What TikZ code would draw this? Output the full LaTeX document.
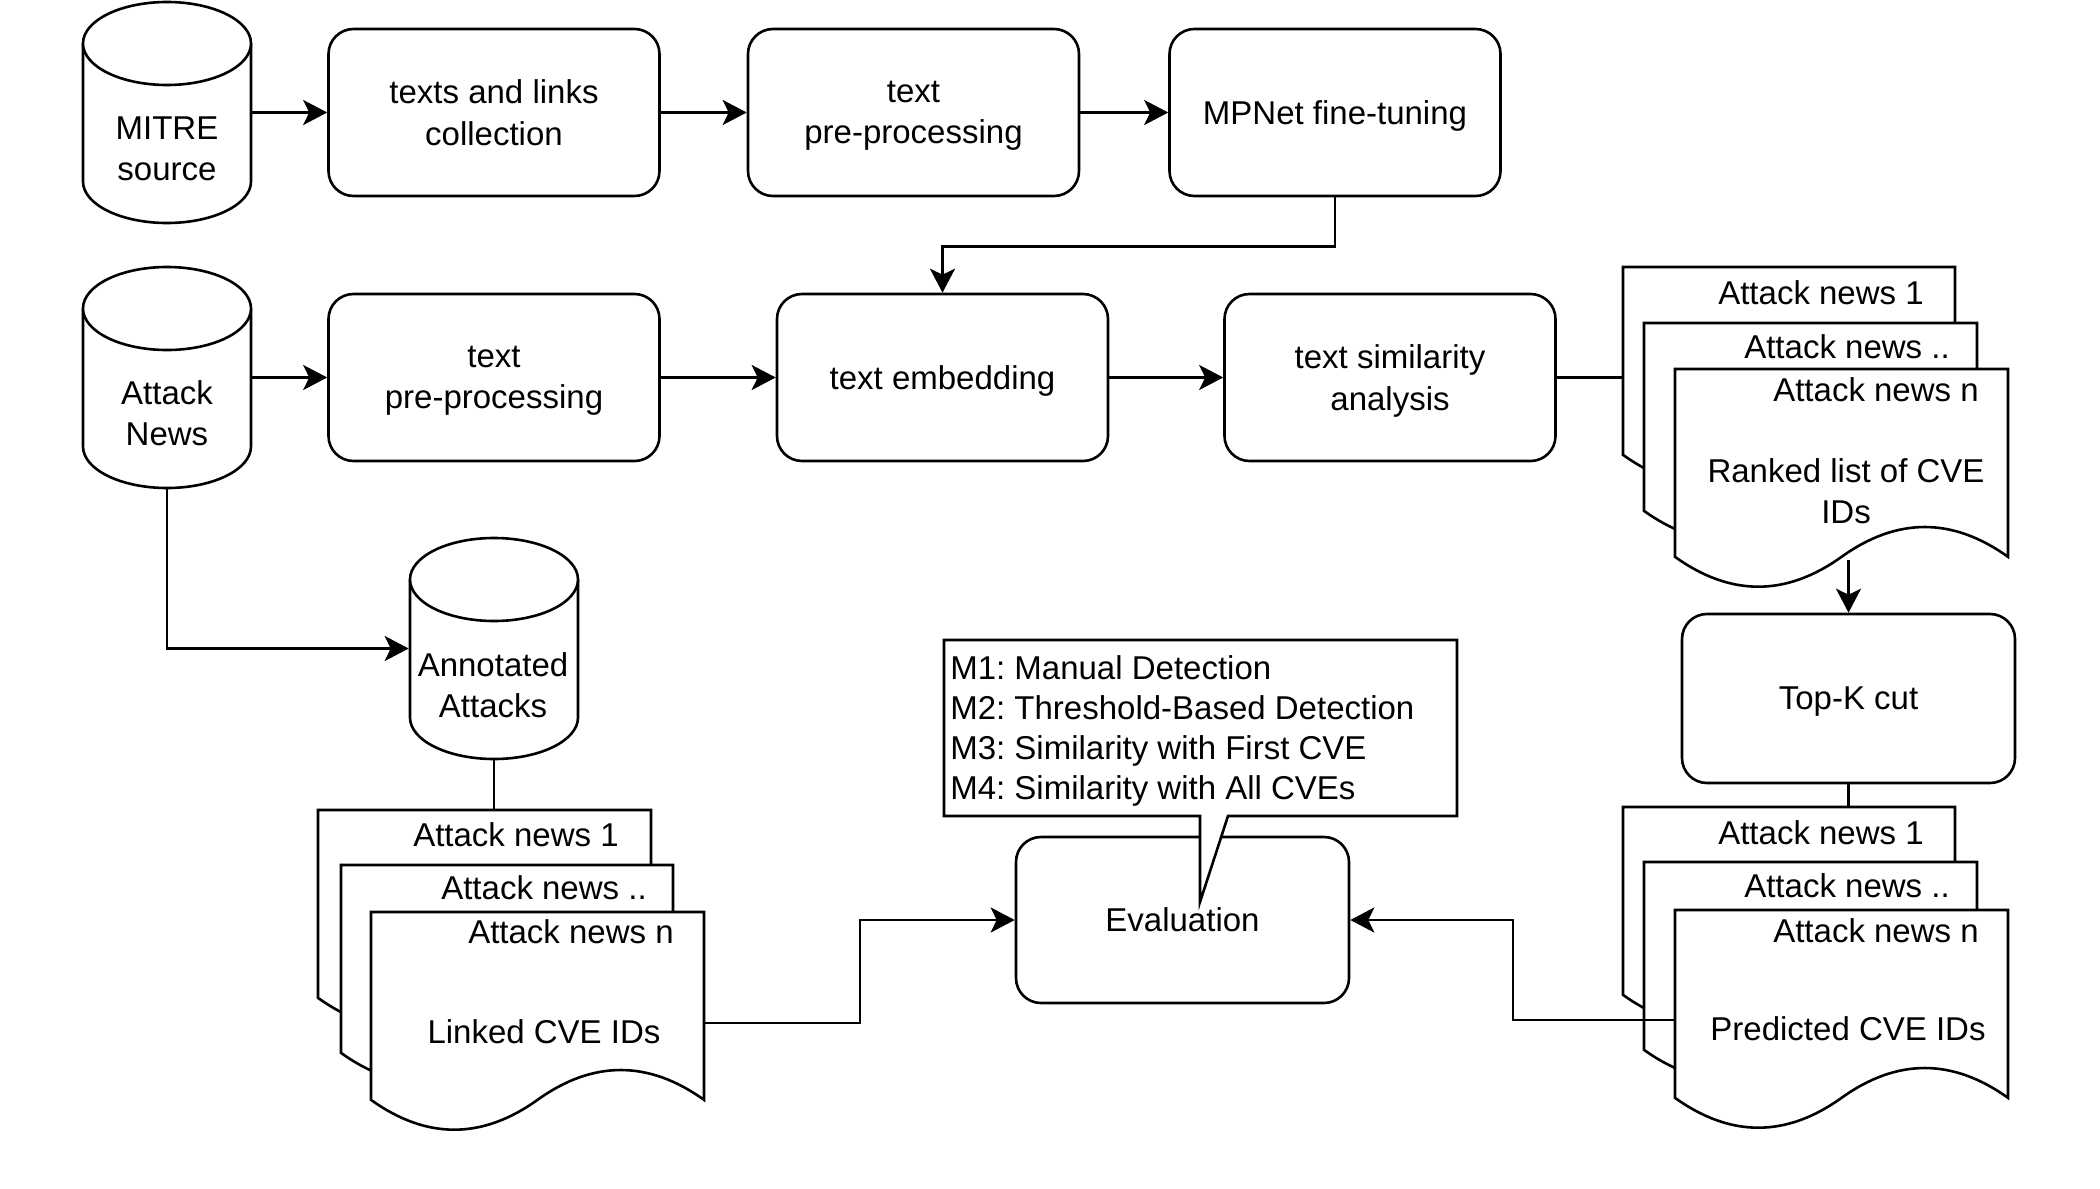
\documentclass[tikz,border=0pt]{standalone}
\usepackage{fontspec}
\setmainfont{Liberation Sans}
\usetikzlibrary{arrows.meta}
\frenchspacing
\tikzset{
  every node/.style={font=\fontsize{33}{41.5}\selectfont},
  proc/.style={draw, fill=white, rounded corners=25pt, minimum width=331pt, minimum height=167pt, align=center, inner sep=0pt, text depth=0pt},
  arr/.style={-{Stealth[length=24pt,width=25pt,inset=6pt]}},
  lbl/.style={inner sep=0pt, align=center, text depth=0pt},
  note/.style={inner sep=0pt, align=left, font=\fontsize{33}{39.7}\selectfont},
}
% cylinder: name, cx, top, bottom
\newcommand\mycyl[4]{%
  \node[inner sep=0pt, minimum width=168pt, minimum height={#4-#3}] (#1) at (#2,{(#3+#4)/2}) {};
  \draw[fill=white] (#2-84,#3+41.5) -- (#2-84,#4-41.5) arc[start angle=180,end angle=0,x radius=84,y radius=41.5] -- (#2+84,#3+41.5);
  \draw[fill=white] (#2,#3+41.5) ellipse[x radius=84, y radius=41.5];
}
% document: name, x, y, w, h
\newcommand\mydoc[5]{%
  \node[inner sep=0pt, minimum width=#4pt, minimum height=#5pt, anchor=north west] (#1) at (#2,#3) {};
  \begin{scope}[shift={(#2,#3)}, x=#4pt, y=-#5pt]
    \draw[fill=white] (0,0) -- (1,0) -- (1,0.85) .. controls (0.8333,0.67) and (0.6667,0.67) .. (0.5,0.85) .. controls (0.3333,1.03) and (0.1667,1.03) .. (0,0.85) -- cycle;
  \end{scope}
}
\begin{document}
\begin{tikzpicture}[x=1pt,y=-1pt,line width=2.6pt]
\useasboundingbox[fill=white] (0,0) rectangle (2100,1188);

% cylinders
\mycyl{mitre}{167}{2}{223}
\node[lbl] (mitret) at (167,148.5) {MITRE\\source};
\mycyl{news}{167}{267}{488}
\node[lbl] (newst) at (167,413) {Attack\\News};
\mycyl{annot}{494}{538}{759}
\node[lbl] (annott) at (493,685) {Annotated\\Attacks};

% process boxes
\node[proc] (coll) at (494,112.5) {texts and links\\collection};
\node[proc] (prep1) at (913.5,112.5) {text\\pre-processing};
\node[proc] (mpnet) at (1335,112.5) {MPNet fine-tuning};
\node[proc] (prep2) at (494,377.5) {text\\pre-processing};
\node[proc] (embed) at (942.5,377.5) {text embedding};
\node[proc] (sim) at (1390,377.5) {text similarity\\analysis};
\node[proc, minimum width=333pt, minimum height=169pt] (topk) at (1848.5,698.5) {Top-K cut};
\node[proc, minimum width=333pt, minimum height=166pt] (eval) at (1182.5,920) {Evaluation};

% stack A: ranked list
\mydoc{rkA1}{1623}{267}{332}{221}
\node[anchor=east, inner sep=0pt] (rkA1t) at (1925,293) {Attack news 1};
\mydoc{rkA2}{1644}{323}{333}{221}
\node[anchor=east, inner sep=0pt] (rkA2t) at (1951,347) {Attack news ..};
\mydoc{rkA3}{1675}{369}{333}{221}
\node[anchor=east, inner sep=0pt] (rkA3t) at (1980,390) {Attack news n};
\node[lbl] (rkAt) at (1846,491) {Ranked list of CVE\\IDs};

% stack B: predicted
\mydoc{prB1}{1623}{807}{332}{221}
\node[anchor=east, inner sep=0pt] (prB1t) at (1925,833) {Attack news 1};
\mydoc{prB2}{1644}{862}{333}{221}
\node[anchor=east, inner sep=0pt] (prB2t) at (1951,886) {Attack news ..};
\mydoc{prB3}{1675}{910}{333}{221}
\node[anchor=east, inner sep=0pt] (prB3t) at (1980,931) {Attack news n};
\node[lbl] (prBt) at (1848,1029) {Predicted CVE IDs};

% stack C: linked
\mydoc{lkC1}{318}{810}{333}{221}
\node[anchor=east, inner sep=0pt] (lkC1t) at (620,835) {Attack news 1};
\mydoc{lkC2}{341}{865}{332}{221}
\node[anchor=east, inner sep=0pt] (lkC2t) at (648,888) {Attack news ..};
\mydoc{lkC3}{371}{912}{333}{221}
\node[anchor=east, inner sep=0pt] (lkC3t) at (675,932) {Attack news n};
\node[lbl] (lkCt) at (544,1032) {Linked CVE IDs};

% callout
\draw[fill=white] (944,640) -- (1457,640) -- (1457,816) -- (1228,816) -- (1200,902) -- (1200,816) -- (944,816) -- cycle;
\node[note, anchor=west] (mtext) at (949,731) {M1: Manual Detection\\M2: Threshold-Based Detection\\M3: Similarity with First CVE\\M4: Similarity with All CVEs};

% connectors
\draw[arr] (mitre.east) -- (coll.west);
\draw[arr] (coll.east) -- (prep1.west);
\draw[arr] (prep1.east) -- (mpnet.west);
\draw[arr] (mpnet.south) -- ++(0,49) -| (embed.north);
\draw[arr] (news.east) -- (prep2.west);
\draw[arr] (prep2.east) -- (embed.west);
\draw[arr] (embed.east) -- (sim.west);
\draw (sim.east) -- (rkA1.west |- sim.east);
\coordinate (rkAb) at (1848.5,560);
\draw[arr] (rkAb) -- (topk.north);
\draw (topk.south) -- (topk.south |- prB1.north);
\draw[arr] (news.south) |- (annot.west);
\draw (annot.south) -- (annot.south |- lkC1.north);
\coordinate (prBout) at (1675,1020);
\coordinate (jB) at (1513,920);
\draw[arr] (prBout) -| (jB) -- (eval.east);
\coordinate (lkout) at (704,1023);
\coordinate (jC) at (860,920);
\draw[arr] (lkout) -| (jC) -- (eval.west);
\end{tikzpicture}
\end{document}
